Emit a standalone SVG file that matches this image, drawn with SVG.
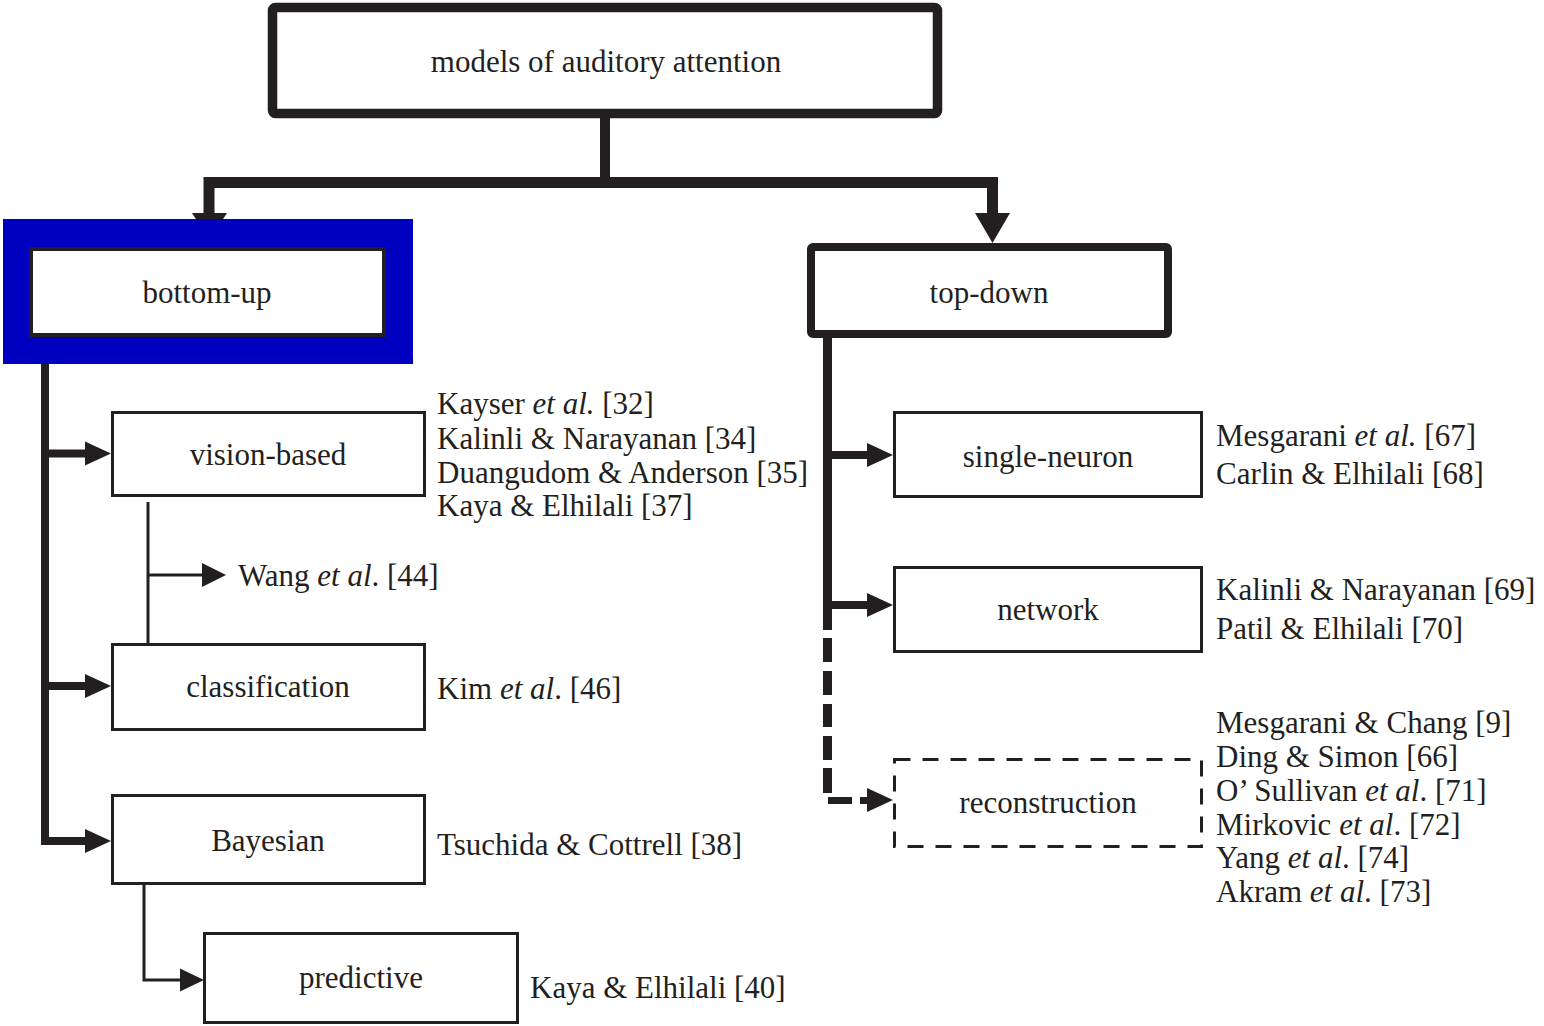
<svg xmlns="http://www.w3.org/2000/svg" width="1544" height="1026" viewBox="0 0 1544 1026">
<style>
  .t { font-family: "Liberation Serif", "Times New Roman", serif; font-size: 31px; fill: #231f20; }
  .c { text-anchor: middle; }
  .box { fill: #fff; stroke: #231f20; stroke-width: 3; }
  .thick { fill: none; stroke: #231f20; stroke-linejoin: miter; stroke-linecap: butt; }
  .head { fill: #231f20; }
  .it { font-style: italic; }
</style>
<rect width="1544" height="1026" fill="#fff"/>
<g id="connectors">
  <path class="thick" d="M605 118 V182.5" stroke-width="10"/>
  <path class="thick" d="M209 214 V182.5 H992.5 V214" stroke-width="11"/>
  <polygon class="head" points="192,213 227,213 209.5,240"/>
  <polygon class="head" points="975,213 1010,213 992.5,243"/>
  <path class="thick" d="M45 364 V841 H86" stroke-width="8"/>
  <path class="thick" d="M45 453.5 H86 M45 686 H86" stroke-width="8"/>
  <polygon class="head" points="85,441.5 111,453.5 85,465.5"/>
  <polygon class="head" points="85,674 111,686 85,698"/>
  <polygon class="head" points="85,829 111,841 85,853"/>
  <path class="thick" d="M148 502 V643 M148 575 H203" stroke-width="3"/>
  <polygon class="head" points="202,563 226,575 202,587"/>
  <path class="thick" d="M144 885 V980 H181" stroke-width="3"/>
  <polygon class="head" points="180,968.5 204,980 180,991.5"/>
  <path class="thick" d="M827.5 338 V630" stroke-width="9"/>
  <path class="thick" d="M827.5 455 H868 M827.5 605 H868" stroke-width="8"/>
  <polygon class="head" points="867,443 893,455 867,467"/>
  <polygon class="head" points="867,593 893,605 867,617"/>
  <path class="thick" d="M827.5 638 V662 M827.5 671 V695 M827.5 704 V727 M827.5 736 V760 M827.5 768 V793" stroke-width="9"/>
  <path class="thick" d="M828 800.5 H852 M860 800.5 H868" stroke-width="7"/>
  <polygon class="head" points="867,788 893,800 867,812"/>
</g>
<g id="n-root">
  <rect x="272.5" y="7.5" width="665" height="106" rx="3" fill="#fff" stroke="#231f20" stroke-width="9.5"/>
  <text class="t c" x="606" y="72">models of auditory attention</text>
</g>
<g id="n-bottomup">
  <rect x="3" y="219" width="410" height="145" fill="#0000c0"/>
  <rect x="31" y="249" width="353" height="86" fill="#fff" stroke="#231f20" stroke-width="4"/>
  <text class="t c" x="207" y="303">bottom-up</text>
</g>
<g id="n-topdown">
  <rect x="811" y="247" width="357" height="87" rx="2" fill="#fff" stroke="#231f20" stroke-width="8"/>
  <text class="t c" x="989" y="303">top-down</text>
</g>
<g id="n-vision">
  <rect class="box" x="112.5" y="412.5" width="312" height="83"/>
  <text class="t c" x="268" y="465">vision-based</text>
</g>
<g id="n-classification">
  <rect class="box" x="112.5" y="644.5" width="312" height="85"/>
  <text class="t c" x="268" y="697">classification</text>
</g>
<g id="n-bayesian">
  <rect class="box" x="112.5" y="795.5" width="312" height="88"/>
  <text class="t c" x="268" y="851">Bayesian</text>
</g>
<g id="n-predictive">
  <rect class="box" x="204.5" y="933.5" width="313" height="89"/>
  <text class="t c" x="361" y="988">predictive</text>
</g>
<g id="n-single">
  <rect class="box" x="894.5" y="412.5" width="307" height="84"/>
  <text class="t c" x="1048" y="467">single-neuron</text>
</g>
<g id="n-network">
  <rect class="box" x="894.5" y="567.5" width="307" height="84"/>
  <text class="t c" x="1048" y="620">network</text>
</g>
<g id="n-reconstruction">
  <rect class="box" x="894.5" y="759.5" width="307" height="87" stroke-dasharray="16 12"/>
  <text class="t c" x="1048" y="813">reconstruction</text>
</g>
<g id="labels">
  <text class="t" x="437" y="414">Kayser <tspan class="it">et al.</tspan> [32]</text>
  <text class="t" x="437" y="449">Kalinli &amp; Narayanan [34]</text>
  <text class="t" x="437" y="483">Duangudom &amp; Anderson [35]</text>
  <text class="t" x="437" y="516">Kaya &amp; Elhilali [37]</text>
  <text class="t" x="238" y="586">Wang <tspan class="it">et al</tspan>. [44]</text>
  <text class="t" x="437" y="699">Kim <tspan class="it">et al</tspan>. [46]</text>
  <text class="t" x="437" y="855">Tsuchida &amp; Cottrell [38]</text>
  <text class="t" x="530" y="998">Kaya &amp; Elhilali [40]</text>
  <text class="t" x="1216" y="446">Mesgarani <tspan class="it">et al.</tspan> [67]</text>
  <text class="t" x="1216" y="484">Carlin &amp; Elhilali [68]</text>
  <text class="t" x="1216" y="600">Kalinli &amp; Narayanan [69]</text>
  <text class="t" x="1216" y="639">Patil &amp; Elhilali [70]</text>
  <text class="t" x="1216" y="733">Mesgarani &amp; Chang [9]</text>
  <text class="t" x="1216" y="767">Ding &amp; Simon [66]</text>
  <text class="t" x="1216" y="801">O’ Sullivan <tspan class="it">et al</tspan>. [71]</text>
  <text class="t" x="1216" y="835">Mirkovic <tspan class="it">et al</tspan>. [72]</text>
  <text class="t" x="1216" y="868">Yang <tspan class="it">et al</tspan>. [74]</text>
  <text class="t" x="1216" y="902">Akram <tspan class="it">et al</tspan>. [73]</text>
</g>
</svg>
